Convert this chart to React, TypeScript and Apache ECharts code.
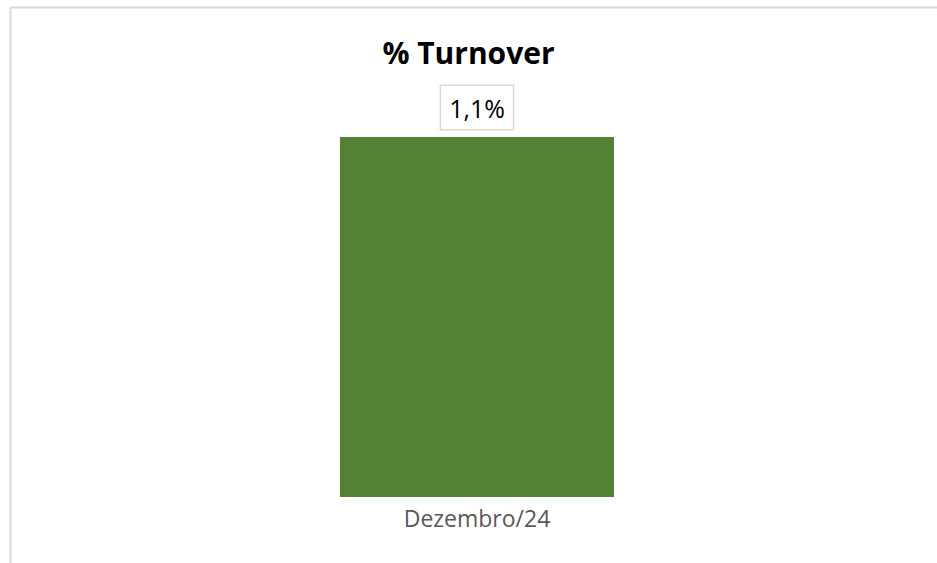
import React, { useEffect, useRef } from "react";
import * as echarts from "echarts";

const categories = ["Dezembro/24"];
const turnoverValues = [1.1];
const chartTitle = "% Turnover";

export default function App() {
  const ref = useRef<HTMLDivElement>(null);
  useEffect(() => {
    if (!ref.current) return;
    const chart = echarts.init(ref.current, null, { renderer: "svg" });
    chart.setOption({
      animation: false,
      backgroundColor: "#ffffff",
      title: {
        text: chartTitle,
        left: "center",
        top: 32,
        textStyle: { fontFamily: "Open Sans", fontWeight: "bold", fontSize: 30, color: "#000000" },
      },
      grid: { left: 140, right: 123, top: 137, bottom: 66 },
      xAxis: {
        type: "category",
        data: categories,
        axisLine: { show: false },
        axisTick: { show: false },
        axisLabel: { fontFamily: "Open Sans", fontSize: 23, color: "#595959", margin: 9 },
      },
      yAxis: {
        type: "value",
        min: 0,
        max: 1.1,
        show: false,
        splitLine: { show: false },
      },
      series: [
        {
          type: "bar",
          data: turnoverValues,
          barWidth: 274,
          itemStyle: { color: "#548235" },
          label: {
            show: true,
            position: "top",
            distance: 8,
            formatter: (p: any) => String(p.value).replace(".", ",") + "%",
            fontFamily: "Open Sans",
            fontSize: 25,
            color: "#000000",
            borderColor: "#d9d9d9",
            borderWidth: 1.5,
            padding: [9, 8, 9, 8],
            backgroundColor: "#ffffff",
          },
        },
      ],
      graphic: [
        { type: "line", shape: { x1: 10.5, y1: 7.5, x2: 937, y2: 7.5 }, style: { stroke: "#d9d9d9", lineWidth: 2 } },
        { type: "line", shape: { x1: 10.5, y1: 7.5, x2: 10.5, y2: 563 }, style: { stroke: "#d9d9d9", lineWidth: 2 } },
      ],
    });
    return () => chart.dispose();
  }, []);
  return <div ref={ref} style={{ position: "absolute", left: 0, top: 0, width: 937, height: 563 }} />;
}
